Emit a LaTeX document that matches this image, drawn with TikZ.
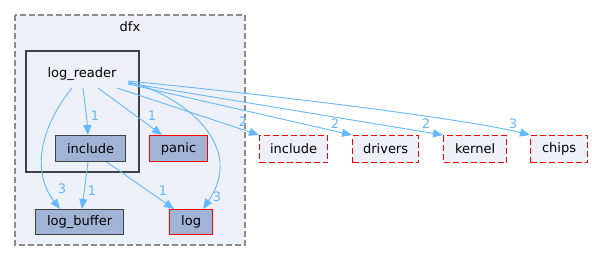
\documentclass[tikz,border=0pt]{standalone}
\usepackage{fontspec}
\setmainfont{DejaVu Sans}
\usetikzlibrary{arrows.meta}
\definecolor{clfill}{HTML}{EDF0F7}
\definecolor{nodefill}{HTML}{A2B4D6}
\definecolor{edgecol}{HTML}{63B8FF}
\definecolor{dark}{HTML}{404040}
\definecolor{clgray}{HTML}{8C8C8C}
\tikzset{
  dirbox/.style={draw=dark, fill=nodefill, line width=1.2pt, inner sep=0pt, anchor=north west, font=\fontsize{13}{15}\selectfont},
  redbox/.style={draw=red, fill=nodefill, line width=1.2pt, inner sep=0pt, anchor=north west, font=\fontsize{13}{15}\selectfont},
  extbox/.style={draw=red, fill=clfill, dash pattern=on 6pt off 3pt, line width=1.2pt, inner sep=0pt, anchor=north west, font=\fontsize{13}{15}\selectfont},
  lbl/.style={font=\fontsize{13}{15}\selectfont},
  dep/.style={draw=edgecol, line width=0.9pt, -{Triangle[length=10pt,width=8pt]}},
  num/.style={text=edgecol, font=\fontsize{13}{15}\selectfont, inner sep=0pt}
}
\begin{document}
\begin{tikzpicture}[x=1pt,y=-1pt]
\useasboundingbox (0,0) rectangle (592,261);
\fill[white] (0,0) rectangle (592,261);
% clusters
\draw[clgray, fill=clfill, line width=1.2pt, dash pattern=on 6pt off 3pt] (15,15) rectangle (245,245);
\node[lbl] (dfx) at (130,27) {dfx};
\draw[dark, fill=clfill, line width=2.5pt] (26,51) rectangle (139,172);
\node[lbl] (lr) at (82,74) {log\_reader};
% nodes
\node[dirbox, minimum width=70pt, minimum height=26pt] (inc) at (55,135) {include};
\node[redbox, minimum width=58pt, minimum height=26pt] (panic) at (149,135) {panic};
\node[dirbox, minimum width=88pt, minimum height=25pt] (lb) at (35,209) {log\_buffer};
\node[redbox, minimum width=43pt, minimum height=25pt] (log) at (169,209) {log};
\node[extbox, minimum width=68pt, minimum height=27pt] (einc) at (259,135) {include};
\node[extbox, minimum width=66pt, minimum height=27pt] (drv) at (352,135) {drivers};
\node[extbox, minimum width=63pt, minimum height=27pt] (ker) at (443,135) {kernel};
\node[extbox, minimum width=57pt, minimum height=27pt] (chips) at (530,135) {chips};
% coordinates on log_reader label
\coordinate (s1) at (72,88);
\coordinate (s2) at (83,88);
\coordinate (s3) at (98,88);
\coordinate (s4) at (117,88);
\coordinate (s5) at (128,82);
\coordinate (s6) at (128,84);
\coordinate (s7) at (128,83);
\coordinate (s8) at (128,81);
% edges
\draw[dep] (s1) .. controls (42,125) and (30,170) .. (lb.north west -| 60,0);
\node[num] at (62,189) {3};
\draw[dep] (s2) .. controls (85,105) and (87,120) .. (inc.north west -| 88,0);
\node[num] at (95,116) {1};
\draw[dep] (s3) -- (panic.north west -| 162,0);
\node[num] at (152,116) {1};
\draw[dep] (s5) .. controls (170,90) and (250,140) .. (log.north west -| 203,0);
\node[num] at (217,197) {3};
\draw[dep] (inc.south -| 88,0) -- (lb.north west -| 82,0);
\node[num] at (92,191) {1};
\draw[dep] (inc.south -| 107,0) -- (log.north west -| 174,0);
\node[num] at (163,191) {1};
\draw[dep] (s4) -- (einc.north west);
\node[num] at (243,122) {2};
\draw[dep] (s6) -- (drv.north west);
\node[num] at (335,124) {2};
\draw[dep] (s7) -- (ker.north west);
\node[num] at (426,124) {2};
\draw[dep] (s8) .. controls (300,98) and (470,120) .. (chips.north west);
\node[num] at (513,124) {3};
\end{tikzpicture}
\end{document}
